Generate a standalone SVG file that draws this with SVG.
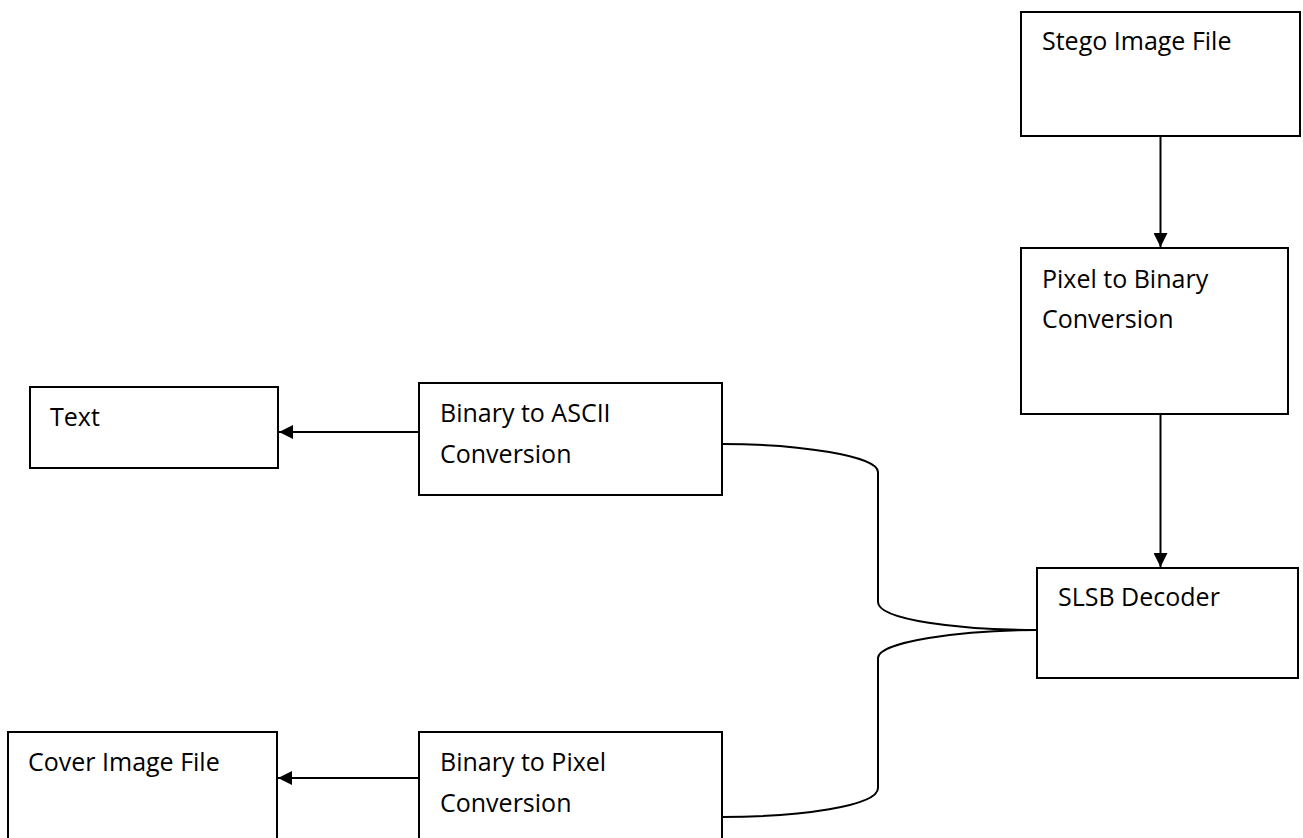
<svg xmlns="http://www.w3.org/2000/svg" width="1303" height="838" viewBox="0 0 1303 838">
  <style>
    .box { fill: #ffffff; stroke: #000000; stroke-width: 2; }
    .lbl { font-family: "Open Sans", "Liberation Sans", sans-serif; font-size: 25px; fill: #000000; }
    .edge { fill: none; stroke: #000000; stroke-width: 2; }
    .arrow { fill: none; stroke: #000000; stroke-width: 2; marker-end: url(#ah); }
  </style>
  <defs>
    <marker id="ah" markerWidth="14" markerHeight="14" refX="14" refY="7" orient="auto" markerUnits="userSpaceOnUse">
      <path d="M0,0 L14,7 L0,14 Z" fill="#000000"/>
    </marker>
  </defs>
  <rect width="1303" height="838" fill="#ffffff"/>

  <g id="stego">
    <rect class="box" x="1021" y="12" width="279" height="124"/>
    <text class="lbl" x="1042" y="50">Stego Image File</text>
  </g>
  <g id="pixel2binary">
    <rect class="box" x="1021" y="248" width="267" height="166"/>
    <text class="lbl" x="1042" y="288">Pixel to Binary</text>
    <text class="lbl" x="1042" y="328">Conversion</text>
  </g>
  <g id="slsb">
    <rect class="box" x="1037" y="568" width="261" height="110"/>
    <text class="lbl" x="1058" y="606">SLSB Decoder</text>
  </g>
  <g id="text">
    <rect class="box" x="30" y="387" width="248" height="81"/>
    <text class="lbl" x="50" y="426">Text</text>
  </g>
  <g id="binary2ascii">
    <rect class="box" x="419" y="383" width="303" height="112"/>
    <text class="lbl" x="440" y="422">Binary to ASCII</text>
    <text class="lbl" x="440" y="463">Conversion</text>
  </g>
  <g id="cover">
    <rect class="box" x="8" y="732" width="269" height="120"/>
    <text class="lbl" x="28" y="771">Cover Image File</text>
  </g>
  <g id="binary2pixel">
    <rect class="box" x="419" y="732" width="303" height="120"/>
    <text class="lbl" x="440" y="771">Binary to Pixel</text>
    <text class="lbl" x="440" y="812">Conversion</text>
  </g>

  <g id="connectors">
    <line class="arrow" x1="1160.5" y1="136" x2="1160.5" y2="247"/>
    <line class="arrow" x1="1160.5" y1="414" x2="1160.5" y2="567"/>
    <line class="arrow" x1="419" y1="432" x2="279" y2="432"/>
    <line class="arrow" x1="419" y1="778" x2="278" y2="778"/>
    <path class="edge" d="M722,444 C800,444 878,456 878,472 L878,602 C878,620 960,630 1037,630"/>
    <path class="edge" d="M1037,630 C960,630 878,642 878,658 L878,788 C878,806 800,817 722,817"/>
  </g>
</svg>
